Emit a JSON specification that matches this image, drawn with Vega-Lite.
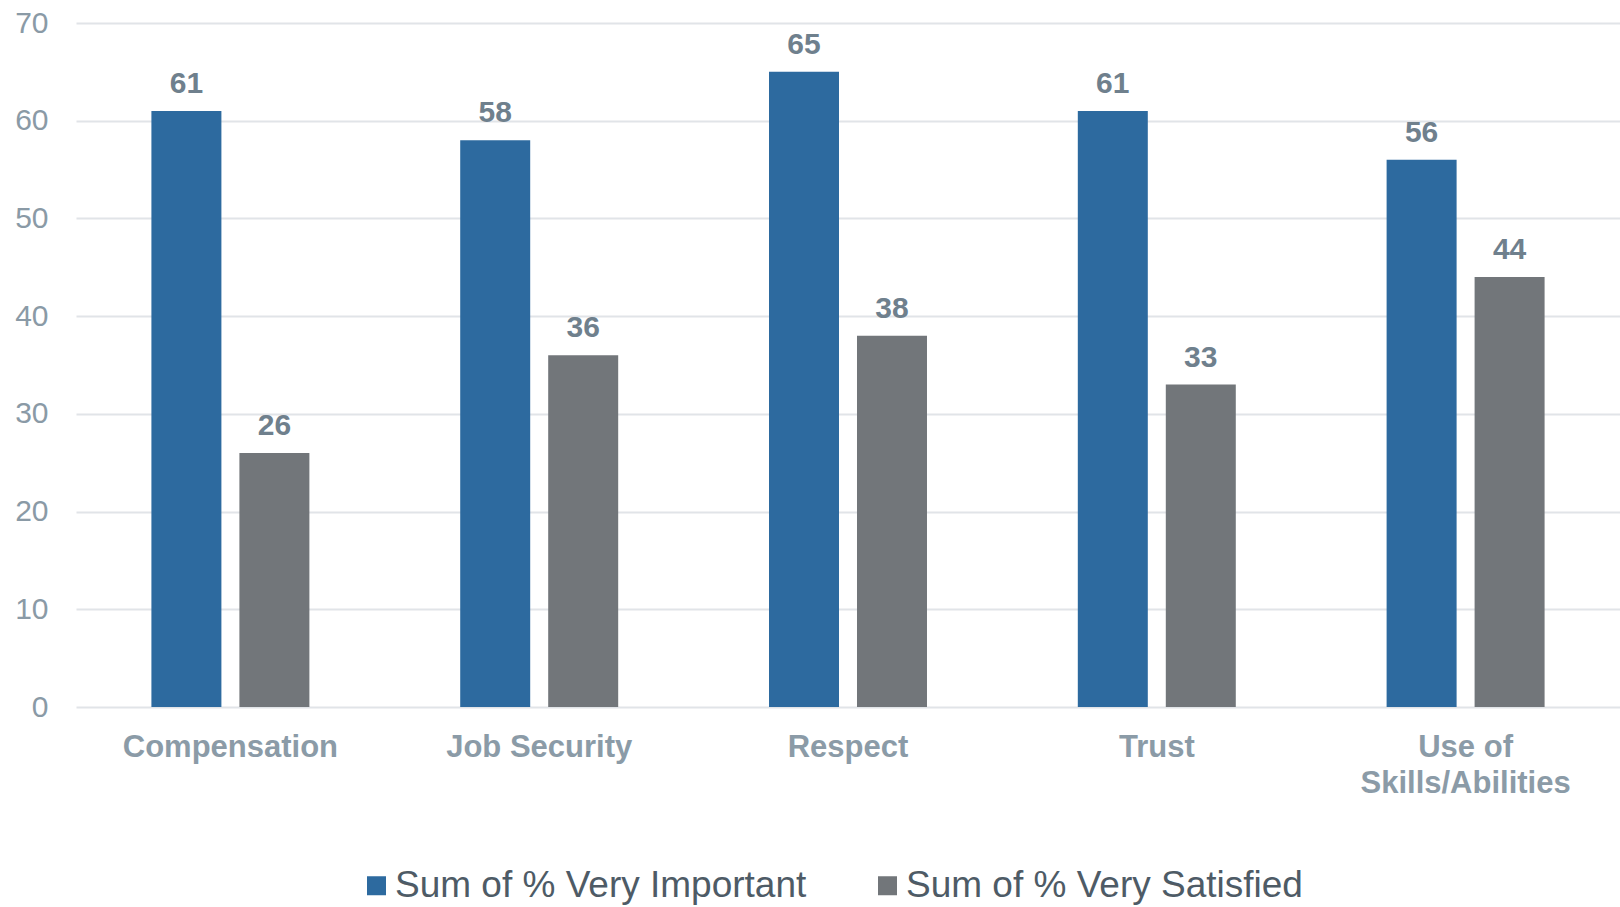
{
  "$schema": "https://vega.github.io/schema/vega-lite/v6.json",
  "width": 1544,
  "height": 684,
  "autosize": {"type": "none"},
  "padding": {"left": 76, "top": 23, "right": 0, "bottom": 200},
  "background": "white",
  "config": {
    "view": {"stroke": null},
    "font": "Liberation Sans"
  },
  "data": {
    "values": [
      {"category": "Compensation", "series": "Sum of % Very Important", "value": 61},
      {"category": "Compensation", "series": "Sum of % Very Satisfied", "value": 26},
      {"category": "Job Security", "series": "Sum of % Very Important", "value": 58},
      {"category": "Job Security", "series": "Sum of % Very Satisfied", "value": 36},
      {"category": "Respect", "series": "Sum of % Very Important", "value": 65},
      {"category": "Respect", "series": "Sum of % Very Satisfied", "value": 38},
      {"category": "Trust", "series": "Sum of % Very Important", "value": 61},
      {"category": "Trust", "series": "Sum of % Very Satisfied", "value": 33},
      {"category": "Use of Skills/Abilities", "series": "Sum of % Very Important", "value": 56},
      {"category": "Use of Skills/Abilities", "series": "Sum of % Very Satisfied", "value": 44}
    ]
  },
  "encoding": {
    "x": {
      "field": "category",
      "type": "nominal",
      "sort": null,
      "scale": {"paddingInner": 0, "paddingOuter": 0},
      "axis": {
        "title": null,
        "domain": false,
        "ticks": false,
        "labelAngle": 0,
        "labelFont": "Liberation Sans",
        "labelFontSize": 31,
        "labelFontWeight": "bold",
        "labelColor": "#8B9BA7",
        "labelPadding": 25,
        "labelLineHeight": 36,
        "labelLimit": 400,
        "labelExpr": "datum.label == 'Use of Skills/Abilities' ? ['Use of', 'Skills/Abilities'] : datum.label"
      }
    },
    "xOffset": {
      "field": "series",
      "type": "nominal",
      "scale": {"paddingInner": 0.2045, "paddingOuter": 0.857}
    },
    "y": {
      "field": "value",
      "type": "quantitative",
      "scale": {"domain": [0, 70], "nice": false},
      "axis": {
        "title": null,
        "values": [0, 10, 20, 30, 40, 50, 60, 70],
        "domain": false,
        "ticks": false,
        "labelFont": "Liberation Sans",
        "labelFontSize": 30,
        "labelColor": "#8A9AA6",
        "labelPadding": 28,
        "gridColor": "#E1E4E8",
        "gridWidth": 2
      }
    }
  },
  "layer": [
    {
      "mark": {"type": "bar"},
      "encoding": {
        "color": {
          "field": "series",
          "type": "nominal",
          "scale": {"range": ["#2D6A9F", "#72767A"]},
          "legend": {
            "title": null,
            "orient": "none",
            "legendX": 282,
            "legendY": 844,
            "direction": "horizontal",
            "padding": 0,
            "symbolType": "square",
            "symbolSize": 361,
            "symbolStrokeWidth": 0,
            "symbolOpacity": 1,
            "labelOffset": 0,
            "columnPadding": 62,
            "labelFont": "Liberation Sans",
            "labelFontSize": 37,
            "labelColor": "#4E5B66",
            "labelLimit": 600
          }
        }
      }
    },
    {
      "mark": {
        "type": "text",
        "baseline": "alphabetic",
        "dy": -18,
        "font": "Liberation Sans",
        "fontSize": 30,
        "fontWeight": "bold",
        "color": "#6F808D"
      },
      "encoding": {
        "text": {"field": "value", "type": "quantitative"}
      }
    }
  ]
}
